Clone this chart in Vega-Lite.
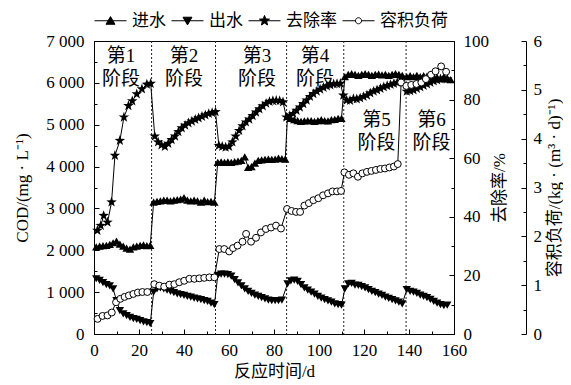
{
  "$schema": "https://vega.github.io/schema/vega-lite/v6.json",
  "width": 360,
  "height": 293,
  "padding": {"left": 13, "top": 4, "right": 0, "bottom": 0},
  "background": "white",
  "config": {
    "font": "Liberation Serif, Noto Sans CJK SC, serif",
    "view": {"stroke": "black", "strokeWidth": 1},
    "axis": {
      "domainColor": "black", "domainWidth": 1, "tickColor": "black", "tickWidth": 1,
      "labelColor": "black", "titleColor": "black",
      "labelFont": "Liberation Serif, serif", "titleFont": "Liberation Serif, Noto Sans CJK SC, serif",
      "labelFontSize": 17, "titleFontSize": 17, "titleFontWeight": "normal",
      "grid": false, "labelFlush": false, "labelOverlap": false, "labelBound": false
    },
    "legend": {
      "labelFont": "Liberation Serif, Noto Sans CJK SC, serif", "labelFontSize": 17, "labelColor": "black"
    }
  },
  "datasets": {
    "main": [
      {"s":"进水","day":1,"v":2080},{"s":"进水","day":2.5,"v":2100},{"s":"进水","day":4,"v":2110},{"s":"进水","day":5.5,"v":2120},{"s":"进水","day":7,"v":2140},{"s":"进水","day":8.5,"v":2180},{"s":"进水","day":10,"v":2220},{"s":"进水","day":11.5,"v":2150},{"s":"进水","day":13,"v":2100},{"s":"进水","day":14.5,"v":2050},{"s":"进水","day":16,"v":2030},{"s":"进水","day":17.5,"v":2080},{"s":"进水","day":19,"v":2100},{"s":"进水","day":20.5,"v":2120},{"s":"进水","day":22,"v":2130},{"s":"进水","day":23.5,"v":2110},{"s":"进水","day":25,"v":2120},
      {"s":"进水","day":26.5,"v":3150},{"s":"进水","day":28,"v":3170},{"s":"进水","day":29.5,"v":3180},{"s":"进水","day":31,"v":3200},{"s":"进水","day":32.5,"v":3200},{"s":"进水","day":34,"v":3180},{"s":"进水","day":35.5,"v":3200},{"s":"进水","day":37,"v":3210},{"s":"进水","day":38.5,"v":3220},{"s":"进水","day":40,"v":3260},{"s":"进水","day":41.5,"v":3200},{"s":"进水","day":43,"v":3180},{"s":"进水","day":44.5,"v":3200},{"s":"进水","day":46,"v":3180},{"s":"进水","day":47.5,"v":3150},{"s":"进水","day":49,"v":3200},{"s":"进水","day":50.5,"v":3160},{"s":"进水","day":52,"v":3170},{"s":"进水","day":53.5,"v":3150},
      {"s":"进水","day":55,"v":4100},{"s":"进水","day":56.5,"v":4110},{"s":"进水","day":58,"v":4100},{"s":"进水","day":59.5,"v":4110},{"s":"进水","day":61,"v":4100},{"s":"进水","day":62.5,"v":4120},{"s":"进水","day":64,"v":4130},{"s":"进水","day":65.5,"v":4150},{"s":"进水","day":67,"v":4230},{"s":"进水","day":68.5,"v":3980},{"s":"进水","day":70,"v":4000},{"s":"进水","day":71.5,"v":4080},{"s":"进水","day":73,"v":4150},{"s":"进水","day":74.5,"v":4160},{"s":"进水","day":76,"v":4170},{"s":"进水","day":77.5,"v":4180},{"s":"进水","day":79,"v":4170},{"s":"进水","day":80.5,"v":4180},{"s":"进水","day":82,"v":4200},{"s":"进水","day":83.5,"v":4190},{"s":"进水","day":85,"v":4180},
      {"s":"进水","day":86,"v":5200},{"s":"进水","day":87.5,"v":5150},{"s":"进水","day":89,"v":5120},{"s":"进水","day":90.5,"v":5100},{"s":"进水","day":92,"v":5080},{"s":"进水","day":93.5,"v":5090},{"s":"进水","day":95,"v":5100},{"s":"进水","day":96.5,"v":5100},{"s":"进水","day":98,"v":5080},{"s":"进水","day":99.5,"v":5100},{"s":"进水","day":101,"v":5120},{"s":"进水","day":102.5,"v":5100},{"s":"进水","day":104,"v":5090},{"s":"进水","day":105.5,"v":5120},{"s":"进水","day":107,"v":5130},{"s":"进水","day":108.5,"v":5150},{"s":"进水","day":110,"v":5150},
      {"s":"进水","day":111.5,"v":6150},{"s":"进水","day":113,"v":6200},{"s":"进水","day":114.5,"v":6220},{"s":"进水","day":116,"v":6200},{"s":"进水","day":117.5,"v":6180},{"s":"进水","day":119,"v":6200},{"s":"进水","day":120.5,"v":6220},{"s":"进水","day":122,"v":6200},{"s":"进水","day":123.5,"v":6180},{"s":"进水","day":125,"v":6200},{"s":"进水","day":126.5,"v":6210},{"s":"进水","day":128,"v":6190},{"s":"进水","day":129.5,"v":6200},{"s":"进水","day":131,"v":6180},{"s":"进水","day":132.5,"v":6200},{"s":"进水","day":134,"v":6220},{"s":"进水","day":135.5,"v":6200},{"s":"进水","day":137,"v":6180},
      {"s":"进水","day":139,"v":6150},{"s":"进水","day":140.5,"v":6170},{"s":"进水","day":142,"v":6150},{"s":"进水","day":143.5,"v":6180},{"s":"进水","day":145,"v":6150},{"s":"进水","day":146.5,"v":6170},{"s":"进水","day":148,"v":6160},{"s":"进水","day":149.5,"v":6180},{"s":"进水","day":151,"v":6150},{"s":"进水","day":152.5,"v":6130},{"s":"进水","day":154,"v":6100},{"s":"进水","day":155.5,"v":6150},{"s":"进水","day":157,"v":6100},{"s":"进水","day":158.5,"v":6080},

      {"s":"出水","day":1,"v":1320},{"s":"出水","day":2.5,"v":1280},{"s":"出水","day":4,"v":1230},{"s":"出水","day":5.5,"v":1180},{"s":"出水","day":7,"v":1150},{"s":"出水","day":8.5,"v":1080},{"s":"出水","day":10,"v":800},{"s":"出水","day":11.5,"v":560},{"s":"出水","day":13,"v":480},{"s":"出水","day":14.5,"v":440},{"s":"出水","day":16,"v":400},{"s":"出水","day":17.5,"v":370},{"s":"出水","day":19,"v":350},{"s":"出水","day":20.5,"v":320},{"s":"出水","day":22,"v":290},{"s":"出水","day":23.5,"v":270},{"s":"出水","day":25,"v":250},
      {"s":"出水","day":26.5,"v":1000},{"s":"出水","day":28,"v":1080},{"s":"出水","day":29.5,"v":1100},{"s":"出水","day":31,"v":1080},{"s":"出水","day":32.5,"v":1050},{"s":"出水","day":34,"v":1020},{"s":"出水","day":35.5,"v":990},{"s":"出水","day":37,"v":960},{"s":"出水","day":38.5,"v":940},{"s":"出水","day":40,"v":920},{"s":"出水","day":41.5,"v":900},{"s":"出水","day":43,"v":880},{"s":"出水","day":44.5,"v":860},{"s":"出水","day":46,"v":840},{"s":"出水","day":47.5,"v":820},{"s":"出水","day":49,"v":800},{"s":"出水","day":50.5,"v":780},{"s":"出水","day":52,"v":740},{"s":"出水","day":53.5,"v":700},
      {"s":"出水","day":55,"v":1400},{"s":"出水","day":56.5,"v":1430},{"s":"出水","day":58,"v":1430},{"s":"出水","day":59.5,"v":1420},{"s":"出水","day":61,"v":1380},{"s":"出水","day":62.5,"v":1300},{"s":"出水","day":64,"v":1220},{"s":"出水","day":65.5,"v":1150},{"s":"出水","day":67,"v":1080},{"s":"出水","day":68.5,"v":1020},{"s":"出水","day":70,"v":970},{"s":"出水","day":71.5,"v":930},{"s":"出水","day":73,"v":900},{"s":"出水","day":74.5,"v":870},{"s":"出水","day":76,"v":840},{"s":"出水","day":77.5,"v":810},{"s":"出水","day":79,"v":800},{"s":"出水","day":80.5,"v":800},{"s":"出水","day":82,"v":800},{"s":"出水","day":83.5,"v":810},
      {"s":"出水","day":86,"v":1200},{"s":"出水","day":87.5,"v":1270},{"s":"出水","day":89,"v":1290},{"s":"出水","day":90.5,"v":1260},{"s":"出水","day":92,"v":1180},{"s":"出水","day":93.5,"v":1100},{"s":"出水","day":95,"v":1050},{"s":"出水","day":96.5,"v":1000},{"s":"出水","day":98,"v":950},{"s":"出水","day":99.5,"v":900},{"s":"出水","day":101,"v":860},{"s":"出水","day":102.5,"v":820},{"s":"出水","day":104,"v":790},{"s":"出水","day":105.5,"v":760},{"s":"出水","day":107,"v":720},{"s":"出水","day":108.5,"v":700},{"s":"出水","day":110,"v":690},
      {"s":"出水","day":111.5,"v":1080},{"s":"出水","day":113,"v":1200},{"s":"出水","day":114.5,"v":1210},{"s":"出水","day":116,"v":1170},{"s":"出水","day":117.5,"v":1160},{"s":"出水","day":119,"v":1130},{"s":"出水","day":120.5,"v":1100},{"s":"出水","day":122,"v":1060},{"s":"出水","day":123.5,"v":1020},{"s":"出水","day":125,"v":990},{"s":"出水","day":126.5,"v":950},{"s":"出水","day":128,"v":920},{"s":"出水","day":129.5,"v":880},{"s":"出水","day":131,"v":850},{"s":"出水","day":132.5,"v":820},{"s":"出水","day":134,"v":790},{"s":"出水","day":135.5,"v":760},{"s":"出水","day":137,"v":720},
      {"s":"出水","day":139,"v":1060},{"s":"出水","day":140.5,"v":1020},{"s":"出水","day":142,"v":1000},{"s":"出水","day":143.5,"v":970},{"s":"出水","day":145,"v":930},{"s":"出水","day":146.5,"v":900},{"s":"出水","day":148,"v":870},{"s":"出水","day":149.5,"v":830},{"s":"出水","day":151,"v":780},{"s":"出水","day":152.5,"v":740},{"s":"出水","day":154,"v":700},{"s":"出水","day":155.5,"v":680},{"s":"出水","day":157,"v":690},

      {"s":"去除率","day":1.5,"v":35.3},{"s":"去除率","day":3,"v":37},{"s":"去除率","day":4.3,"v":40.4},{"s":"去除率","day":6,"v":38.1},{"s":"去除率","day":7.8,"v":45},{"s":"去除率","day":9.3,"v":60.9},{"s":"去除率","day":11.5,"v":66},{"s":"去除率","day":13.3,"v":74},{"s":"去除率","day":15.3,"v":77.9},{"s":"去除率","day":17,"v":79.5},{"s":"去除率","day":19,"v":81.9},{"s":"去除率","day":21.3,"v":83.6},{"s":"去除率","day":23.5,"v":85.2},{"s":"去除率","day":25.2,"v":85.5},
      {"s":"去除率","day":27,"v":67.5},{"s":"去除率","day":28.5,"v":65.5},{"s":"去除率","day":30,"v":64.5},{"s":"去除率","day":31.5,"v":64},{"s":"去除率","day":33,"v":65},{"s":"去除率","day":34.5,"v":66.3},{"s":"去除率","day":36,"v":67.5},{"s":"去除率","day":37.5,"v":69},{"s":"去除率","day":39,"v":70.3},{"s":"去除率","day":40.5,"v":71.2},{"s":"去除率","day":42,"v":72},{"s":"去除率","day":43.5,"v":72.6},{"s":"去除率","day":45,"v":73.2},{"s":"去除率","day":46.5,"v":73.7},{"s":"去除率","day":48,"v":74.2},{"s":"去除率","day":49.5,"v":74.7},{"s":"去除率","day":51,"v":75.2},{"s":"去除率","day":52.5,"v":75.5},{"s":"去除率","day":54,"v":75.8},
      {"s":"去除率","day":55.5,"v":64.3},{"s":"去除率","day":57,"v":64},{"s":"去除率","day":58.5,"v":63.7},{"s":"去除率","day":60,"v":64},{"s":"去除率","day":61.5,"v":65.5},{"s":"去除率","day":63,"v":67.5},{"s":"去除率","day":64.5,"v":69.4},{"s":"去除率","day":66,"v":71},{"s":"去除率","day":67.5,"v":72.3},{"s":"去除率","day":69,"v":73.3},{"s":"去除率","day":70.5,"v":74.5},{"s":"去除率","day":72,"v":75.7},{"s":"去除率","day":73.5,"v":76.8},{"s":"去除率","day":75,"v":77.8},{"s":"去除率","day":76.5,"v":78.7},{"s":"去除率","day":78,"v":79.3},{"s":"去除率","day":79.5,"v":79.6},{"s":"去除率","day":81,"v":79.7},{"s":"去除率","day":82.5,"v":79.6},{"s":"去除率","day":84,"v":79.2},
      {"s":"去除率","day":85.5,"v":74},{"s":"去除率","day":87,"v":74.5},{"s":"去除率","day":88.5,"v":75.2},{"s":"去除率","day":90,"v":76.3},{"s":"去除率","day":91.5,"v":77.4},{"s":"去除率","day":93,"v":78.6},{"s":"去除率","day":94.5,"v":79.8},{"s":"去除率","day":96,"v":81},{"s":"去除率","day":97.5,"v":82},{"s":"去除率","day":99,"v":82.8},{"s":"去除率","day":100.5,"v":83.5},{"s":"去除率","day":102,"v":84.1},{"s":"去除率","day":103.5,"v":84.6},{"s":"去除率","day":105,"v":85},{"s":"去除率","day":106.5,"v":85.3},{"s":"去除率","day":108,"v":85.4},{"s":"去除率","day":109.5,"v":85.5},
      {"s":"去除率","day":110.8,"v":81.5},{"s":"去除率","day":112.3,"v":79.8},{"s":"去除率","day":113.8,"v":79.7},{"s":"去除率","day":115.3,"v":80.3},{"s":"去除率","day":116.8,"v":80.2},{"s":"去除率","day":118.3,"v":80.5},{"s":"去除率","day":119.8,"v":81},{"s":"去除率","day":121.3,"v":81.5},{"s":"去除率","day":122.8,"v":82.2},{"s":"去除率","day":124.3,"v":82.8},{"s":"去除率","day":125.8,"v":83.3},{"s":"去除率","day":127.3,"v":83.8},{"s":"去除率","day":128.8,"v":84.3},{"s":"去除率","day":130.3,"v":84.7},{"s":"去除率","day":131.8,"v":85.1},{"s":"去除率","day":133.3,"v":85.5},{"s":"去除率","day":134.8,"v":85.8},{"s":"去除率","day":136.3,"v":86.2},
      {"s":"去除率","day":139,"v":82.8},{"s":"去除率","day":140.5,"v":83},{"s":"去除率","day":142,"v":83.3},{"s":"去除率","day":143.5,"v":83.8},{"s":"去除率","day":145,"v":84.3},{"s":"去除率","day":146.5,"v":84.8},{"s":"去除率","day":148,"v":85.3},{"s":"去除率","day":149.5,"v":85.8},{"s":"去除率","day":151,"v":86.3},{"s":"去除率","day":152.5,"v":86.7},{"s":"去除率","day":154,"v":87},{"s":"去除率","day":155.5,"v":87.2},{"s":"去除率","day":157,"v":87},

      {"s":"容积负荷","day":1.6,"v":0.31},{"s":"容积负荷","day":3.8,"v":0.37},{"s":"容积负荷","day":6,"v":0.38},{"s":"容积负荷","day":7.9,"v":0.44},{"s":"容积负荷","day":9.8,"v":0.65},{"s":"容积负荷","day":11.7,"v":0.72},{"s":"容积负荷","day":13.6,"v":0.76},{"s":"容积负荷","day":15.5,"v":0.79},{"s":"容积负荷","day":17.5,"v":0.82},{"s":"容积负荷","day":19.5,"v":0.85},{"s":"容积负荷","day":21.5,"v":0.86},{"s":"容积负荷","day":23.7,"v":0.86},
      {"s":"容积负荷","day":26.8,"v":1.02},{"s":"容积负荷","day":29,"v":0.99},{"s":"容积负荷","day":31.2,"v":0.97},{"s":"容积负荷","day":33.5,"v":1.01},{"s":"容积负荷","day":35.7,"v":1.02},{"s":"容积负荷","day":37.9,"v":1.06},{"s":"容积负荷","day":40.1,"v":1.09},{"s":"容积负荷","day":42.4,"v":1.13},{"s":"容积负荷","day":44.6,"v":1.13},{"s":"容积负荷","day":46.8,"v":1.14},{"s":"容积负荷","day":49,"v":1.15},{"s":"容积负荷","day":51.3,"v":1.16},{"s":"容积负荷","day":53.5,"v":1.16},
      {"s":"容积负荷","day":55.7,"v":1.74},{"s":"容积负荷","day":57.9,"v":1.74},{"s":"容积负荷","day":60.1,"v":1.69},{"s":"容积负荷","day":61.8,"v":1.76},{"s":"容积负荷","day":63.8,"v":1.81},{"s":"容积负荷","day":66,"v":1.89},{"s":"容积负荷","day":67.6,"v":2.05},{"s":"容积负荷","day":69.8,"v":1.89},{"s":"容积负荷","day":72,"v":1.97},{"s":"容积负荷","day":74.2,"v":2.08},{"s":"容积负荷","day":76.4,"v":2.15},{"s":"容积负荷","day":78.7,"v":2.18},{"s":"容积负荷","day":80.9,"v":2.22},{"s":"容积负荷","day":83.1,"v":2.16},
      {"s":"容积负荷","day":85.8,"v":2.56},{"s":"容积负荷","day":87.8,"v":2.52},{"s":"容积负荷","day":89.8,"v":2.5},{"s":"容积负荷","day":91.6,"v":2.5},{"s":"容积负荷","day":93.5,"v":2.63},{"s":"容积负荷","day":95.5,"v":2.68},{"s":"容积负荷","day":97.5,"v":2.74},{"s":"容积负荷","day":99.7,"v":2.78},{"s":"容积负荷","day":101.8,"v":2.84},{"s":"容积负荷","day":104,"v":2.88},{"s":"容积负荷","day":106,"v":2.92},{"s":"容积负荷","day":108,"v":2.92},{"s":"容积负荷","day":109.8,"v":2.93},
      {"s":"容积负荷","day":111.3,"v":3.31},{"s":"容积负荷","day":113.3,"v":3.26},{"s":"容积负荷","day":115.3,"v":3.29},{"s":"容积负荷","day":117.3,"v":3.22},{"s":"容积负荷","day":119.3,"v":3.29},{"s":"容积负荷","day":121.3,"v":3.32},{"s":"容积负荷","day":123.3,"v":3.34},{"s":"容积负荷","day":125.3,"v":3.36},{"s":"容积负荷","day":127.3,"v":3.38},{"s":"容积负荷","day":129.3,"v":3.39},{"s":"容积负荷","day":131.3,"v":3.41},{"s":"容积负荷","day":133.3,"v":3.43},{"s":"容积负荷","day":135,"v":3.48},
      {"s":"容积负荷","day":136.5,"v":5.15},{"s":"容积负荷","day":138.8,"v":5.08},{"s":"容积负荷","day":141,"v":5.1},{"s":"容积负荷","day":143.3,"v":5.12},{"s":"容积负荷","day":145.5,"v":5.15},{"s":"容积负荷","day":147.5,"v":5.22},{"s":"容积负荷","day":149.8,"v":5.31},{"s":"容积负荷","day":151.8,"v":5.38},{"s":"容积负荷","day":154.3,"v":5.48},{"s":"容积负荷","day":156.5,"v":5.37}
    ],
    "series": [{"s":"进水"},{"s":"出水"},{"s":"去除率"},{"s":"容积负荷"}],
    "divs": [{"day":25.6},{"day":54},{"day":85.6},{"day":111},{"day":138.7}],
    "stages": [
      {"label":"第1\n阶段","day":12,"v":6640},
      {"label":"第2\n阶段","day":40,"v":6640},
      {"label":"第3\n阶段","day":72.4,"v":6640},
      {"label":"第4\n阶段","day":98.2,"v":6640},
      {"label":"第5\n阶段","day":125.5,"v":5120},
      {"label":"第6\n阶段","day":150,"v":5120}
    ]
  },
  "encoding": {
    "x": {
      "field": "day", "type": "quantitative",
      "scale": {"domain": [0, 160], "nice": false, "zero": false},
      "axis": {
        "values": [0,10,20,30,40,50,60,70,80,90,100,110,120,130,140,150,160],
        "labelExpr": "datum.value % 20 == 0 ? datum.label : ''",
        "tickSize": {"condition": {"test": "datum.value % 20 == 0", "value": -5}, "value": -3},
        "labelPadding": 13,
        "title": "反应时间/d", "titlePadding": 3
      }
    }
  },
  "layer": [
    {
      "layer": [
        {
          "data": {"name": "divs"},
          "mark": {"type": "rule", "color": "#222222", "strokeDash": [2, 2], "strokeWidth": 1},
          "encoding": {}
        },
        {
          "data": {"name": "main"},
          "transform": [{"filter": "datum.s == '进水' || datum.s == '出水'"}],
          "mark": {"type": "line", "color": "black", "strokeWidth": 1},
          "encoding": {
            "detail": {"field": "s"},
            "y": {"field": "v", "type": "quantitative", "scale": {"domain": [0, 7000], "nice": false},
              "axis": {"orient": "left", "values": [0,500,1000,1500,2000,2500,3000,3500,4000,4500,5000,5500,6000,6500,7000],
                "labelExpr": "datum.value % 1000 == 0 ? replace(format(datum.value, ','), ',', ' ') : ''",
                "tickSize": {"condition": {"test": "datum.value % 1000 == 0", "value": -5}, "value": -3},
                "labelPadding": 15, "title": "COD/(mg · L⁻¹)", "titlePadding": 14}}
          }
        },
        {
          "data": {"name": "main"},
          "transform": [{"filter": "datum.s == '进水'"}],
          "mark": {"type": "point", "shape": "triangle-up", "filled": true, "color": "black", "opacity": 1, "size": 70},
          "encoding": {
            "y": {"field": "v", "type": "quantitative", "scale": {"domain": [0, 7000], "nice": false},
              "axis": {"orient": "left", "values": [0,500,1000,1500,2000,2500,3000,3500,4000,4500,5000,5500,6000,6500,7000],
                "labelExpr": "datum.value % 1000 == 0 ? replace(format(datum.value, ','), ',', ' ') : ''",
                "tickSize": {"condition": {"test": "datum.value % 1000 == 0", "value": -5}, "value": -3},
                "labelPadding": 15, "title": "COD/(mg · L⁻¹)", "titlePadding": 14}}
          }
        },
        {
          "data": {"name": "main"},
          "transform": [{"filter": "datum.s == '出水'"}],
          "mark": {"type": "point", "shape": "triangle-down", "filled": true, "color": "black", "opacity": 1, "size": 70},
          "encoding": {
            "y": {"field": "v", "type": "quantitative", "scale": {"domain": [0, 7000], "nice": false},
              "axis": {"orient": "left", "values": [0,500,1000,1500,2000,2500,3000,3500,4000,4500,5000,5500,6000,6500,7000],
                "labelExpr": "datum.value % 1000 == 0 ? replace(format(datum.value, ','), ',', ' ') : ''",
                "tickSize": {"condition": {"test": "datum.value % 1000 == 0", "value": -5}, "value": -3},
                "labelPadding": 15, "title": "COD/(mg · L⁻¹)", "titlePadding": 14}}
          }
        },
        {
          "data": {"name": "stages"},
          "mark": {"type": "text", "lineBreak": "\n", "fontSize": 19, "lineHeight": 23, "font": "Liberation Serif, Noto Sans CJK SC, serif", "align": "center", "baseline": "middle", "color": "black"},
          "encoding": {
            "text": {"field": "label"},
            "y": {"field": "v", "type": "quantitative", "scale": {"domain": [0, 7000], "nice": false},
              "axis": {"orient": "left", "values": [0,500,1000,1500,2000,2500,3000,3500,4000,4500,5000,5500,6000,6500,7000],
                "labelExpr": "datum.value % 1000 == 0 ? replace(format(datum.value, ','), ',', ' ') : ''",
                "tickSize": {"condition": {"test": "datum.value % 1000 == 0", "value": -5}, "value": -3},
                "labelPadding": 15, "title": "COD/(mg · L⁻¹)", "titlePadding": 14}}
          }
        }
      ]
    },
    {
      "data": {"name": "main"},
      "transform": [{"filter": "datum.s == '去除率'"}],
      "encoding": {
        "y": {"field": "v", "type": "quantitative", "scale": {"domain": [0, 100], "nice": false},
          "axis": {"orient": "right", "values": [0,10,20,30,40,50,60,70,80,90,100],
            "labelExpr": "datum.value % 20 == 0 ? datum.label : ''",
            "tickSize": {"condition": {"test": "datum.value % 20 == 0", "value": -5}, "value": -3},
            "labelPadding": 14, "title": "去除率/%", "titleAngle": 270, "titleBaseline": "top", "titlePadding": 3}}
      },
      "layer": [
        {"mark": {"type": "line", "color": "black", "strokeWidth": 1}},
        {"mark": {"type": "point", "shape": "M0,-1L0.235,-0.324L0.951,-0.309L0.38,0.124L0.588,0.809L0,0.4L-0.588,0.809L-0.38,0.124L-0.951,-0.309L-0.235,-0.324Z", "filled": true, "color": "black", "opacity": 1, "size": 121}}
      ]
    },
    {
      "data": {"name": "main"},
      "transform": [{"filter": "datum.s == '容积负荷'"}],
      "encoding": {
        "y": {"field": "v", "type": "quantitative", "scale": {"domain": [0, 6], "nice": false},
          "axis": {"orient": "right", "offset": 72, "values": [0,0.5,1,1.5,2,2.5,3,3.5,4,4.5,5,5.5,6],
            "labelExpr": "datum.value % 1 == 0 ? format(datum.value, 'd') : ''",
            "tickSize": {"condition": {"test": "datum.value % 1 == 0", "value": -5}, "value": -3},
            "labelPadding": 12, "title": "容积负荷/(kg · (m³ · d)⁻¹)", "titleAngle": 270, "titleBaseline": "top", "titlePadding": 5}}
      },
      "layer": [
        {"mark": {"type": "line", "color": "black", "strokeWidth": 1}},
        {"mark": {"type": "point", "shape": "circle", "filled": true, "fill": "white", "stroke": "black", "strokeWidth": 1, "opacity": 1, "size": 48}}
      ]
    },
    {
      "data": {"name": "series"},
      "mark": {"type": "point", "filled": true, "strokeWidth": 1, "opacity": 0},
      "encoding": {
        "shape": {
          "field": "s", "type": "nominal",
          "scale": {
            "domain": ["进水", "出水", "去除率", "容积负荷"],
            "range": [
              "M-1,0H1M-0.28,0.22L0,-0.26L0.28,0.22Z",
              "M-1,0H1M-0.28,-0.22L0,0.26L0.28,-0.22Z",
              "M-1,0H1M0,-0.33L0.082,-0.113L0.314,-0.102L0.133,0.043L0.194,0.267L0,0.14L-0.194,0.267L-0.133,0.043L-0.314,-0.102L-0.082,-0.113Z",
              "M-1,0H-0.19M0.19,0H1M-0.19,0A0.19,0.19,0,1,0,0.19,0A0.19,0.19,0,1,0,-0.19,0Z"
            ]
          },
          "legend": {
            "orient": "top", "direction": "horizontal", "title": null,
            "symbolSize": 1024, "symbolOpacity": 1, "symbolStrokeWidth": 1,
            "labelOffset": 5, "columnPadding": 3, "offset": 12
          }
        },
        "fill": {
          "field": "s", "type": "nominal",
          "scale": {"domain": ["进水", "出水", "去除率", "容积负荷"], "range": ["black", "black", "black", "white"]},
          "legend": {
            "orient": "top", "direction": "horizontal", "title": null,
            "symbolSize": 1024, "symbolOpacity": 1, "symbolStrokeWidth": 1,
            "labelOffset": 5, "columnPadding": 3, "offset": 12
          }
        },
        "stroke": {
          "field": "s", "type": "nominal",
          "scale": {"domain": ["进水", "出水", "去除率", "容积负荷"], "range": ["black", "black", "black", "black"]},
          "legend": {
            "orient": "top", "direction": "horizontal", "title": null,
            "symbolSize": 1024, "symbolOpacity": 1, "symbolStrokeWidth": 1,
            "labelOffset": 5, "columnPadding": 3, "offset": 12
          }
        }
      }
    }
  ],
  "resolve": {"scale": {"y": "independent"}, "axis": {"y": "independent"}}
}
